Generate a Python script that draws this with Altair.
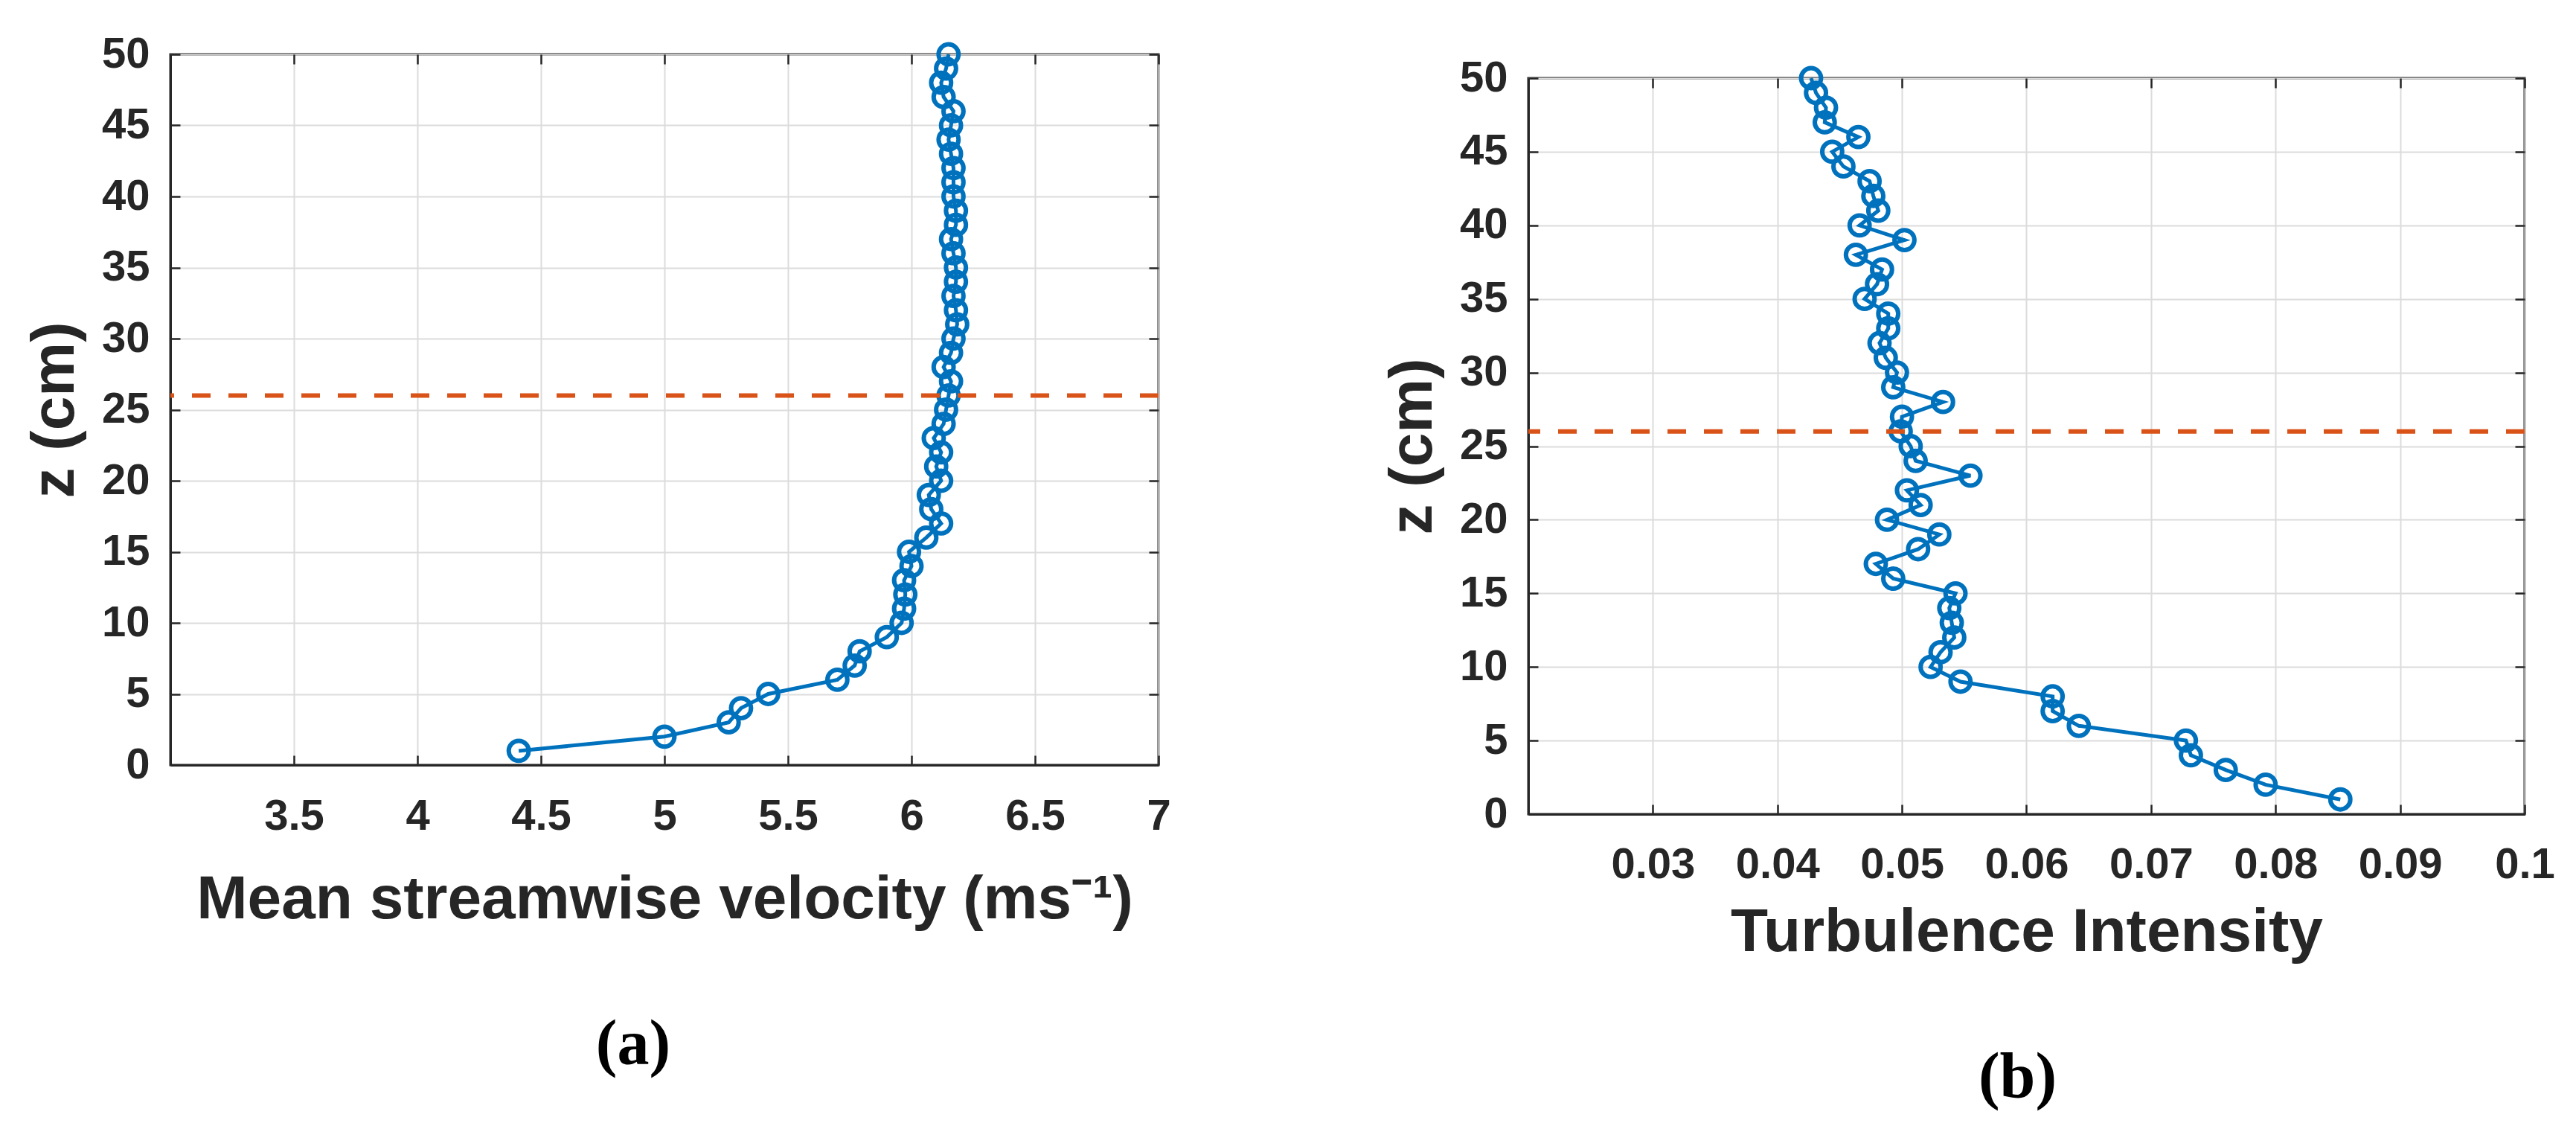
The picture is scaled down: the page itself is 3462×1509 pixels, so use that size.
import altair as alt
import pandas as pd

# ---- data ----
z_cm = list(range(1, 51))
mean_velocity = [4.41, 5.00, 5.26, 5.31, 5.42, 5.70, 5.77, 5.79, 5.90, 5.96,
                 5.97, 5.975, 5.97, 6.00, 5.99, 6.06, 6.12, 6.08, 6.07, 6.12,
                 6.10, 6.12, 6.09, 6.13, 6.14, 6.15, 6.16, 6.13, 6.16, 6.17,
                 6.185, 6.18, 6.17, 6.18, 6.18, 6.17, 6.16, 6.18, 6.18, 6.17,
                 6.17, 6.17, 6.16, 6.15, 6.16, 6.17, 6.13, 6.12, 6.14, 6.15]
turbulence_intensity = [0.0852, 0.0792, 0.0760, 0.0732, 0.0728, 0.0642, 0.0621, 0.0621, 0.0547, 0.0523,
                        0.0531, 0.0542, 0.0540, 0.0538, 0.0543, 0.0493, 0.0479, 0.0513, 0.0530, 0.0488,
                        0.0515, 0.0504, 0.0555, 0.0511, 0.0507, 0.0499, 0.0500, 0.0533, 0.0493, 0.0496,
                        0.0487, 0.0482, 0.0489, 0.0489, 0.0470, 0.0480, 0.0484, 0.0463, 0.0502, 0.0466,
                        0.0481, 0.0477, 0.0474, 0.0453, 0.0444, 0.0465, 0.0438, 0.0439, 0.0431, 0.0427]
dashed_level = [26]

vel_ticks = [3.5, 4, 4.5, 5, 5.5, 6, 6.5, 7]
ti_ticks = [0.03, 0.04, 0.05, 0.06, 0.07, 0.08, 0.09, 0.1]
z_ticks = list(range(0, 51, 5))

BLUE = "#0072BD"
ORANGE = "#D95319"
TXT = "#262626"

df_a = pd.DataFrame({"z": z_cm, "v": mean_velocity})
df_b = pd.DataFrame({"z": z_cm, "v": turbulence_intensity})
df_rule = pd.DataFrame({"z": dashed_level})

INWARD = alt.ExprRef(expr="-13")


def panel(df, xdomain, xticks, xtitle, label, w, h, lab_pad_x, title_pad_x,
          label_offset, label_dx):
    xscale = alt.Scale(domain=xdomain, nice=False, zero=False)
    yscale = alt.Scale(domain=[0, 50], nice=False, zero=False)
    # main axes (bottom / left) with labels, grid and inward ticks
    xaxis = alt.Axis(values=xticks, format="~g", title=xtitle,
                     labelPadding=lab_pad_x, titlePadding=title_pad_x,
                     tickSize=INWARD)
    yaxis = alt.Axis(values=z_ticks, format="d", title="z (cm)",
                     labelPadding=41, titlePadding=21, tickSize=INWARD)
    # box axes (top / right): inward ticks only
    xaxis_top = alt.Axis(orient="top", values=xticks, labels=False,
                         domain=False, grid=False, title=None, tickSize=INWARD)
    yaxis_right = alt.Axis(orient="right", values=z_ticks, labels=False,
                           domain=False, grid=False, title=None,
                           tickSize=INWARD)
    base = alt.Chart(df)
    line = base.mark_line(color=BLUE, strokeWidth=5).encode(
        x=alt.X("v:Q", scale=xscale, axis=xaxis),
        y=alt.Y("z:Q", scale=yscale, axis=yaxis),
        order=alt.Order("z:Q"))
    pts = base.mark_point(shape="circle", filled=False, color=BLUE, size=720,
                          strokeWidth=6, opacity=1).encode(
        x=alt.X("v:Q", scale=xscale, axis=xaxis_top),
        y=alt.Y("z:Q", scale=yscale, axis=yaxis_right))
    rule = alt.Chart(df_rule).mark_rule(color=ORANGE, strokeWidth=6,
                                        strokeDash=[25, 24]).encode(
        y=alt.Y("z:Q", scale=yscale, axis=None))
    return alt.layer(line, pts, rule).resolve_axis(
        x="independent", y="independent"
    ).properties(
        width=w, height=h,
        title=alt.TitleParams(text=label, orient="bottom", anchor="middle",
                              frame="group", font="Liberation Serif",
                              fontSize=86, fontWeight="bold", color="black",
                              baseline="top", offset=label_offset, dx=label_dx))


left = panel(df_a, [3, 7], vel_ticks, "Mean streamwise velocity (ms\u207b\u00b9)",
             "(a)", 1328, 955, 53, 42, 113, -42)
right = panel(df_b, [0.02, 0.1], ti_ticks, "Turbulence Intensity",
              "(b)", 1339, 989, 52, 21, 113, -12)

spacer = alt.Chart(pd.DataFrame({"s": [0]})).mark_point(opacity=0, size=0).properties(
    width=1, height=1, view=alt.ViewBackground(strokeOpacity=0))

left_col = alt.vconcat(left)
right_col = alt.vconcat(spacer, right, spacing=0)

chart = alt.hconcat(left_col, right_col, spacing=280).properties(
    padding={"left": 22, "top": 34, "right": 0, "bottom": 0},
    background="white",
).configure_view(
    stroke=TXT, strokeWidth=3
).configure_axis(
    labelFont="Liberation Sans", labelFontSize=58, labelFontWeight="bold",
    labelColor=TXT, titleFont="Liberation Sans", titleFontSize=82,
    titleFontWeight="bold", titleColor=TXT,
    gridColor="#dcdcdc", gridWidth=2, gridOpacity=1,
    domainColor=TXT, domainWidth=3, tickColor=TXT, tickWidth=2.5,
    labelFlush=False, labelOverlap=False,
)

chart.save("out.html", embed_options={"renderer": "svg", "actions": False})
